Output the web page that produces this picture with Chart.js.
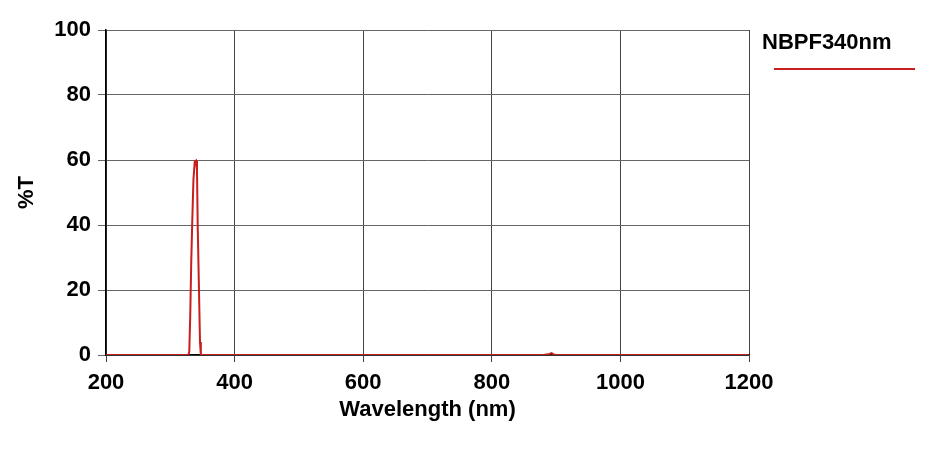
<!DOCTYPE html>
<html>
<head>
<meta charset="utf-8">
<script src="https://cdn.jsdelivr.net/npm/chart.js@4"></script>
<style>
  html, body { margin: 0; padding: 0; background: #fff; }
  canvas { display: block; }
</style>
</head>
<body>
<canvas id="grafico" width="929" height="452"></canvas>
<script>
// datos
const seriesName = 'NBPF340nm';
const wavelengths = [200, 300, 328, 329.5, 331, 332.5, 334, 336, 338, 340, 341.5, 342.6, 344.6, 346.2, 347.5, 360, 880, 888, 893, 898, 1200];
const transmission = [0, 0, 0, 1, 12, 28, 40, 54, 59.5, 59.8, 57, 40, 20, 4, 0, 0, 0, 0.2, 0.6, 0, 0];
const xTicks = [200, 400, 600, 800, 1000, 1200];
const yTicks = [0, 20, 40, 60, 80, 100];

const lineColor = '#c81e1e';
const fontFamily = '"Liberation Sans", Arial, sans-serif';

// leyenda dibujada a mano a la derecha
const legendPlugin = {
    id: 'legendaDerecha',
    afterDraw(chart) {
        const c = chart.ctx;
        c.save();
        c.font = 'bold 22px ' + fontFamily;
        c.fillStyle = '#000';
        c.textBaseline = 'middle';
        c.textAlign = 'left';
        c.fillText(seriesName, 762, 43);
        c.strokeStyle = lineColor;
        c.lineWidth = 2;
        c.beginPath();
        c.moveTo(774, 69);
        c.lineTo(915, 69);
        c.stroke();
        c.restore();
    }
};

const ctx = document.getElementById('grafico');

new Chart(ctx, {
    type: 'line',
    data: {
        datasets: [{
            label: seriesName,
            data: wavelengths.map((w, i) => ({ x: w, y: transmission[i] })),
            borderColor: lineColor,
            borderWidth: 2,
            pointRadius: 0,
            tension: 0,
            fill: false
        }]
    },
    options: {
        responsive: false,
        animation: false,
        devicePixelRatio: 1,
        layout: { padding: { left: 0, top: 30, right: 180, bottom: 0 } },
        plugins: {
            legend: { display: false },
            tooltip: { enabled: false }
        },
        scales: {
            x: {
                type: 'linear',
                min: 200,
                max: 1200,
                afterBuildTicks(scale) { scale.ticks = xTicks.map(v => ({ value: v })); },
                afterFit(scale) { scale.height = 97; },
                ticks: {
                    color: '#000',
                    padding: 8,
                    maxRotation: 0,
                    callback: v => String(v),
                    font: { family: fontFamily, size: 22, weight: 'bold' }
                },
                grid: { color: '#444', lineWidth: 1, tickLength: 7 },
                border: { color: '#000', width: 1.5 },
                title: {
                    display: true,
                    text: 'Wavelength (nm)',
                    color: '#000',
                    padding: { top: 0, bottom: 29 },
                    font: { family: fontFamily, size: 22, weight: 'bold' }
                }
            },
            y: {
                min: 0,
                max: 100,
                afterBuildTicks(scale) { scale.ticks = yTicks.map(v => ({ value: v })); },
                afterFit(scale) { scale.width = 106; },
                ticks: {
                    color: '#000',
                    padding: 7,
                    font: { family: fontFamily, size: 22, weight: 'bold' }
                },
                grid: { color: '#666', lineWidth: 1, tickLength: 8 },
                border: { color: '#000', width: 1.5 },
                title: {
                    display: true,
                    text: '%T',
                    color: '#000',
                    padding: { top: 14, bottom: 0 },
                    font: { family: fontFamily, size: 22, weight: 'bold' }
                }
            }
        }
    },
    plugins: [legendPlugin]
});
</script>
</body>
</html>
